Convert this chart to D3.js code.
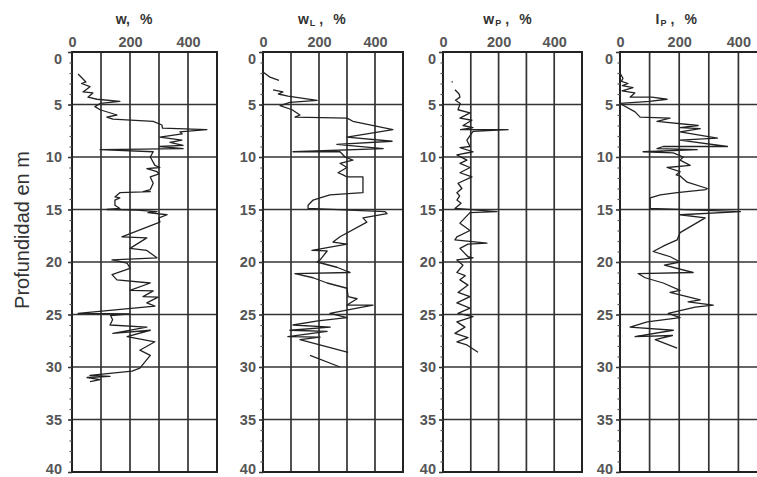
<!DOCTYPE html>
<html lang="es">
<head>
<meta charset="UTF-8">
<title>Perfiles de humedad y límites</title>
<script src="https://d3js.org/d3.v7.min.js"></script>
<style>
  body { margin: 0; background: #fff; }
  text { font-family: "Liberation Sans", Arial, sans-serif; }
  .tick text { fill: #555; font-size: 14.5px; font-weight: bold; }
  .grid { stroke: #333; stroke-width: 1.7; }
  .frame { fill: none; stroke: #222; stroke-width: 2; }
  .curve { fill: none; stroke: #222; stroke-width: 1.3; stroke-linejoin: round; }
</style>
</head>
<body>
<svg id="chart" width="757" height="477"></svg>
<script>
// depth (m), value (%)
const wData = [
  [2.1,21],[2.85,48],[3.0,33],[3.3,62],[3.8,38],[3.9,72],[4.3,55],[4.5,86],[4.7,165],[4.9,97],
  [5.2,79],[5.5,97],[6.0,155],[6.2,120],[6.4,141],[6.6,280],[6.95,310],[7.25,312],[7.4,465],[7.6,372],
  [7.8,380],[8.1,303],[8.4,379],[8.6,338],[8.9,383],[9.0,303],[9.2,383],[9.3,97],[9.5,280],[10.0,270],
  [10.8,286],[11.0,303],[11.1,258],[11.4,293],[11.6,300],[11.9,270],[12.5,280],[13.1,270],[13.3,245],[13.3,270],
  [13.4,165],[13.8,148],[13.9,165],[14.1,148],[14.6,148],[14.9,165],[15.0,120],[15.05,224],[15.2,293],[15.3,262],
  [15.5,328],[15.8,300],[16.2,303],[17.6,172],[17.7,258],[18.7,200],[18.9,258],[19.6,293],[19.8,138],[20.1,190],
  [20.6,200],[21.2,138],[21.7,155],[22.0,270],[22.7,200],[22.75,280],[23.3,245],[23.35,297],[23.9,258],[24.2,286],
  [24.9,21],[24.95,200],[25.1,133],[25.5,140],[26.0,131],[26.2,258],[26.8,141],[26.5,270],[27.1,190],[27.6,286],
  [28.4,234],[28.9,270],[30.1,234],[30.4,207],[30.8,62],[30.9,131],[31.0,52],[31.2,97],[31.4,62]
];
const wlData1 = [[1.9,0],[2.4,25],[2.7,57]];
const wlData2 = [
  [3.6,36],[3.8,71],[4.0,55],[4.2,89],[4.6,193],[4.8,96],[5.1,61],[5.5,104],[6.0,132],[6.2,114],
  [6.3,300],[6.6,321],[7.4,464],[8.1,300],[8.5,461],[8.8,264],[9.2,429],[9.5,107],[9.5,275],[10.0,293],
  [10.3,321],[10.6,275],[11.0,300],[11.5,268],[11.7,286],[11.9,300],[11.9,357],[13.4,357],[13.6,239],[13.9,204],
  [14.1,179],[14.6,161],[14.9,161],[15.2,436],[15.4,443],[15.8,357],[16.2,371],[17.6,275],[18.1,250],[18.3,300],
  [18.9,175],[18.95,229],[19.8,204],[20.0,193],[20.5,264],[21.0,311],[21.1,114],[21.5,179],[22.0,229],[22.5,300],
  [23.3,304],[23.5,336],[24.1,300],[24.1,393],[24.4,336],[24.9,239],[25.3,300],[25.6,196],[26.0,107],[26.2,240],
  [26.5,96],[26.6,229],[27.1,89],[27.15,204],[27.4,132],[28.6,304]
];
const wlData3 = [[28.9,168],[30.0,275]];
const wpDot = [[2.8,32],[2.9,34]];
const wpData = [
  [3.6,43],[4.0,58],[4.3,61],[4.6,45],[4.9,62],[5.5,54],[5.8,97],[6.3,61],[6.5,104],[7.0,72],
  [7.2,108],[7.4,63],[7.4,234],[7.55,108],[8.4,86],[9.0,97],[9.1,61],[9.5,108],[9.8,50],[10.3,86],
  [10.6,61],[11.0,97],[11.5,61],[11.9,104],[12.5,54],[13.0,68],[13.4,50],[13.7,60],[14.1,50],[14.4,65],
  [14.9,43],[15.2,194],[15.3,97],[16.3,61],[17.0,97],[17.6,50],[17.9,43],[18.2,158],[18.3,90],[18.7,61],
  [19.5,90],[19.6,108],[19.8,50],[20.3,72],[21.0,50],[21.3,80],[21.7,61],[22.2,90],[22.9,54],[23.3,97],
  [23.9,50],[24.4,97],[24.9,54],[25.2,108],[25.7,50],[26.2,79],[26.8,43],[27.2,90],[27.6,50],[27.9,86],
  [28.6,126]
];
const ipData = [
  [2.0,0],[2.5,10],[2.8,5],[3.0,27],[3.2,8],[3.4,44],[3.7,7],[3.9,50],[4.3,34],[4.3,108],
  [4.5,159],[4.7,100],[4.9,0],[5.7,51],[6.2,68],[6.3,169],[6.6,125],[7.0,264],[7.2,203],[7.3,271],
  [7.6,203],[8.2,329],[8.4,203],[9.0,363],[9.0,146],[9.2,125],[9.3,261],[9.5,78],[9.6,180],[10.0,214],
  [10.3,203],[10.8,237],[11.0,159],[11.4,203],[11.7,190],[11.8,203],[12.4,227],[13.0,295],[13.1,290],[13.4,193],
  [13.6,136],[13.9,102],[14.4,102],[14.9,102],[15.2,407],[15.5,203],[15.8,288],[17.2,203],[17.9,193],[18.4,153],
  [19.0,112],[19.5,170],[20.0,203],[20.3,150],[21.0,247],[21.1,61],[21.5,85],[22.0,146],[22.7,203],[22.9,169],
  [23.6,271],[23.8,230],[24.1,315],[24.3,254],[24.9,163],[25.3,203],[25.7,92],[26.2,34],[26.5,180],[27.1,51],
  [27.0,177],[27.4,119],[28.2,193]
];

const titles = [
  { main: "w", sub: "" },
  { main: "w", sub: "L" },
  { main: "w", sub: "P" },
  { main: "I", sub: "P" }
];
const depthTicks = [0, 5, 10, 15, 20, 25, 30, 35, 40];
const valueTicks = [0, 200, 400];
const gridValues = [100, 200, 300, 400];
const heavyLine = [100, 100, 200, 300];

const series = [
  [wData],
  [wlData1, wlData2, wlData3],
  [wpDot, wpData],
  [ipData]
];

const panels = [
  { left: 72, width: 145, titleAt: 214 },
  { left: 263, width: 140, titleAt: 210 },
  { left: 443, width: 139, titleAt: 232 },
  { left: 620, width: 148, titleAt: 190 }
];

const svg = d3.select('#chart');
const yTop = 52, yBottom = 472;

const y = d3.scaleLinear().domain([0, 40]).range([yTop, yBottom]);

panels.forEach((p, i) => {
  const x = d3.scaleLinear().domain([0, 500]).range([p.left, p.left + p.width]);
  const g = svg.append('g');

  // horizontal grid
  g.selectAll('.hgrid')
    .data(depthTicks.filter(d => d > 0 && d < 40))
    .enter().append('line')
    .attr('class', 'grid')
    .attr('x1', x(0)).attr('x2', x(500))
    .attr('y1', d => y(d)).attr('y2', d => y(d));

  // vertical grid
  g.selectAll('.vgrid')
    .data(gridValues)
    .enter().append('line')
    .attr('class', 'grid')
    .attr('stroke-width', d => d === heavyLine[i] ? 2.8 : 1.7)
    .attr('x1', d => x(d)).attr('x2', d => x(d))
    .attr('y1', yTop).attr('y2', yBottom);

  g.append('rect')
    .attr('class', 'frame')
    .attr('x', x(0)).attr('y', yTop)
    .attr('width', x(500) - x(0)).attr('height', yBottom - yTop);

  // curves
  const line = d3.line().x(d => x(d[1])).y(d => y(d[0]));
  series[i].forEach(s => {
    g.append('path').attr('class', 'curve').attr('d', line(s));
  });

  // top axis
  g.append('g')
    .attr('transform', `translate(0,${yTop})`)
    .call(d3.axisTop(x).tickValues(valueTicks).tickSize(0).tickPadding(5))
    .call(a => a.select('.domain').remove());

  // left axis, minor ticks
  g.append('g')
    .attr('transform', `translate(${x(0)},0)`)
    .call(d3.axisLeft(y).tickValues(d3.range(0, 41, 1)).tickSize(2.5).tickFormat(''))
    .call(a => a.select('.domain').remove())
    .call(a => a.selectAll('line').attr('stroke', '#555').attr('stroke-width', 1.2));

  // left axis labels
  g.append('g')
    .attr('transform', `translate(${x(0)},0)`)
    .call(d3.axisLeft(y).tickValues(depthTicks).tickSize(4).tickPadding(i === 0 ? 6 : 3))
    .call(a => a.select('.domain').remove())
    .call(a => a.selectAll('line').attr('stroke', '#333').attr('stroke-width', 1.5))
    .call(a => a.selectAll('text').filter(d => d === 0).attr('dy', '0.8em'))
    .call(a => a.selectAll('text').filter(d => d === 40).attr('dy', '0.12em'));

  // title
  const t = g.append('text')
    .attr('x', x(p.titleAt)).attr('y', 24)
    .attr('text-anchor', 'middle')
    .attr('font-weight', 'bold')
    .attr('font-size', 14)
    .attr('fill', '#333');
  t.append('tspan').text(titles[i].main);
  if (titles[i].sub) {
    t.append('tspan').attr('font-size', 9).attr('dy', 2).attr('dx', 1).text(titles[i].sub);
    t.append('tspan').attr('dy', -2).attr('dx', 4).text(',');
  } else {
    t.append('tspan').text(',');
  }
  t.append('tspan').attr('dx', 10).text('%');
});

svg.append('text')
  .attr('transform', 'translate(29,230) rotate(-90)')
  .attr('text-anchor', 'middle')
  .attr('font-size', 20)
  .attr('fill', '#333')
  .text('Profundidad en m');
</script>
</body>
</html>
